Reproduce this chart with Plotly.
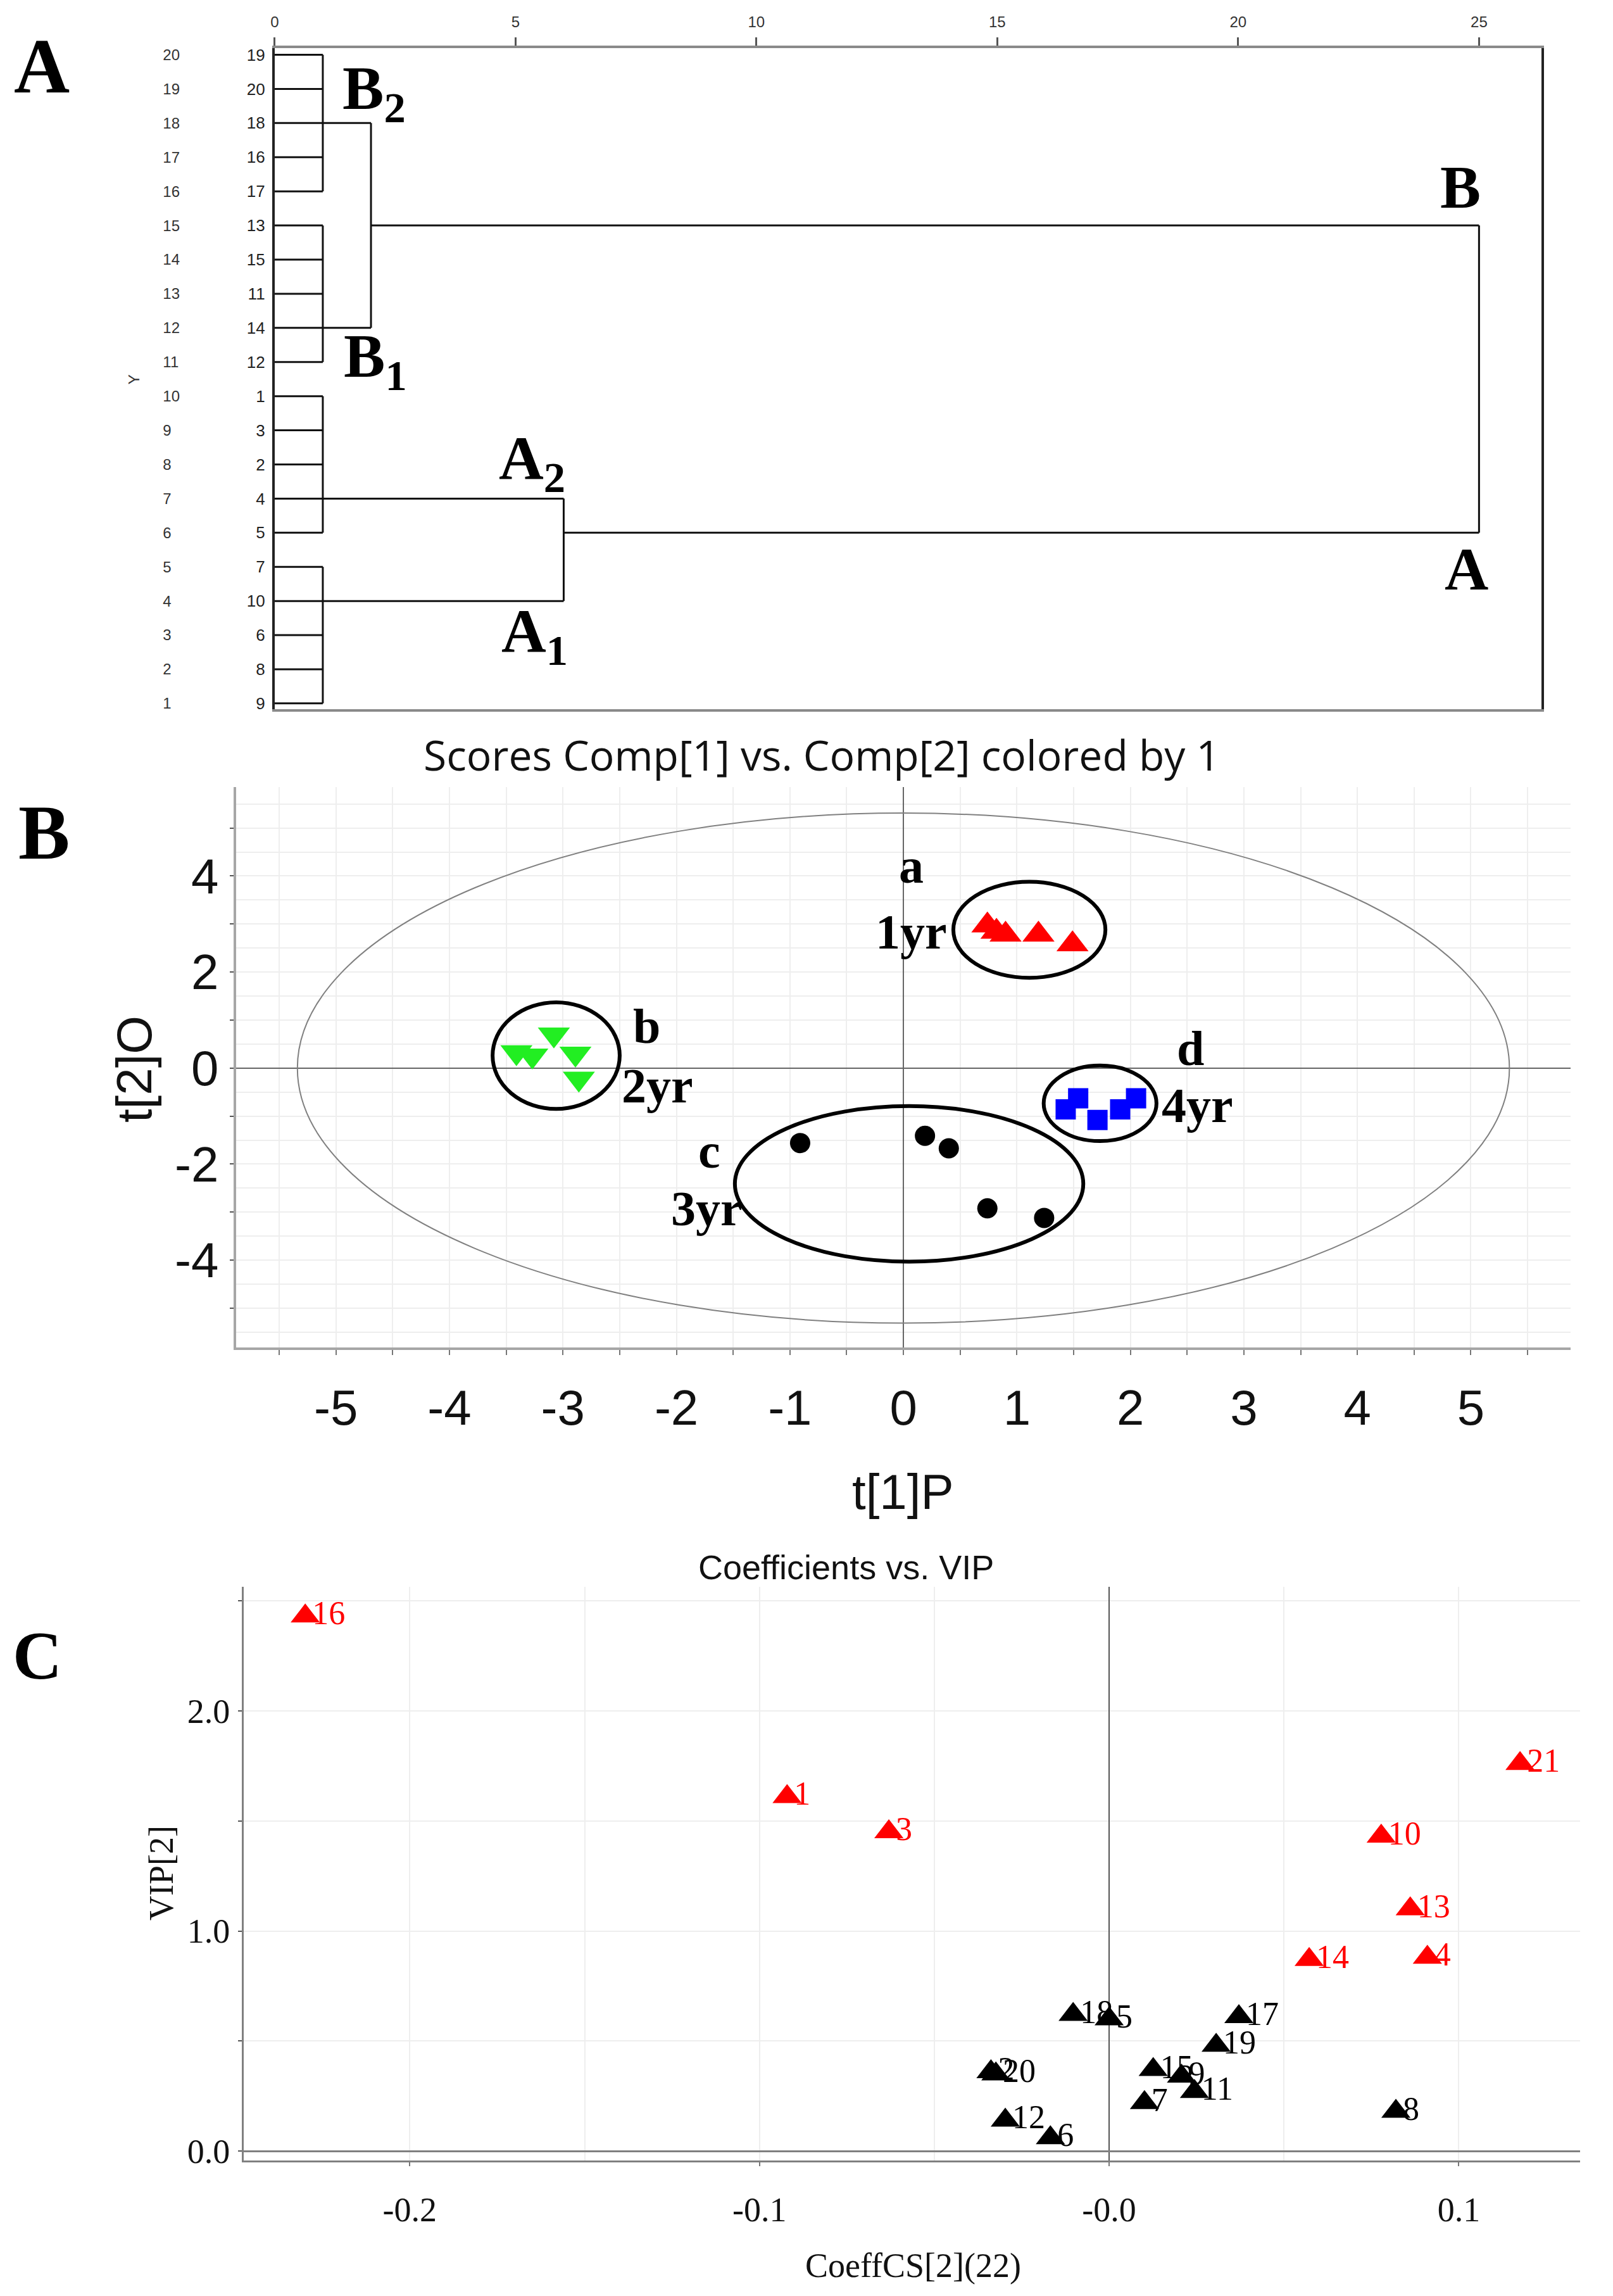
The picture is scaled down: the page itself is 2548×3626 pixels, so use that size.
import plotly.graph_objects as go

W, H = 2548, 3626

# ---------------- Panel A : hierarchical clustering dendrogram ----------------
leaf_order = [19, 20, 18, 16, 17, 13, 15, 11, 14, 12, 1, 3, 2, 4, 5, 7, 10, 6, 8, 9]  # top -> bottom
leaf_y = list(range(20, 0, -1))
group_names = ["B2", "B1", "A2", "A1"]
group_leaves = [[19, 20, 18, 16, 17], [13, 15, 11, 14, 12], [1, 3, 2, 4, 5], [7, 10, 6, 8, 9]]
group_heights = [1.0, 1.0, 1.0, 1.0]
group_link_leaf = [18, 14, 4, 10]
cluster_names = ["B", "A"]
cluster_children = [[0, 1], [2, 3]]
cluster_heights = [2.0, 6.0]
cluster_link_leaf = [13, 5]
root_height = 25.0
dendro_ticks = [0, 5, 10, 15, 20, 25]

# ---------------- Panel B : PCA scores ----------------
yr1_t1 = [0.74, 0.82, 0.90, 1.19, 1.49]
yr1_t2 = [2.97, 2.84, 2.78, 2.78, 2.58]
yr2_t1 = [-3.41, -3.27, -3.08, -2.89, -2.86]
yr2_t2 = [0.33, 0.26, 0.70, 0.30, -0.22]
yr3_t1 = [-0.91, 0.19, 0.40, 0.74, 1.24]
yr3_t2 = [-1.56, -1.41, -1.67, -2.92, -3.12]
yr4_t1 = [1.43, 1.54, 1.71, 1.91, 2.05]
yr4_t2 = [-0.86, -0.63, -1.08, -0.86, -0.63]
t2_ellipse_radii = [5.34, 5.31]
score_ticks = [-5, -4, -3, -2, -1, 0, 1, 2, 3, 4, 5]
group_labels = ["a", "b", "c", "d"]
group_years = ["1yr", "2yr", "3yr", "4yr"]
group_ell_cx = [1.11, -3.06, 0.05, 1.733]
group_ell_cy = [2.88, 0.26, -2.41, -0.734]
group_ell_rx = [0.67, 0.56, 1.535, 0.497]
group_ell_ry = [1.00, 1.11, 1.62, 0.786]

# ---------------- Panel C : coefficients vs VIP ----------------
var_ids = [16, 1, 3, 21, 10, 13, 14, 4, 18, 5, 17, 19, 15, 9, 11, 7, 2, 20, 12, 6, 8]
var_coeff = [-0.2299, -0.0921, -0.0630, 0.1175, 0.0778, 0.0861, 0.0572, 0.0910,
             -0.0103, 0.0000, 0.0371, 0.0306, 0.0126, 0.0207, 0.0244, 0.0101,
             -0.0338, -0.0324, -0.0297, -0.0168, 0.0820]
var_vip = [2.43, 1.61, 1.45, 1.76, 1.43, 1.10, 0.87, 0.88,
           0.62, 0.60, 0.61, 0.48, 0.37, 0.34, 0.27, 0.22,
           0.36, 0.35, 0.14, 0.06, 0.18]
var_important = [1, 1, 1, 1, 1, 1, 1, 1, 0, 0, 0, 0, 0, 0, 0, 0, 0, 0, 0, 0, 0]
coeff_ticks = [-0.2, -0.1, 0, 0.1]
coeff_ticktext = ["-0.2", "-0.1", "-0.0", "0.1"]
vip_ticks = [0, 1, 2]
vip_ticktext = ["0.0", "1.0", "2.0"]


def px(p):
    return p / W


def py(p):
    return 1 - p / H


SERIF = "Liberation Serif, Times New Roman, serif"
SANS = "Liberation Sans, Arial, sans-serif"
NARROW = "Liberation Sans Narrow, Arial Narrow, Liberation Sans, sans-serif"
OPEN = "Open Sans, Noto Sans, sans-serif"

fig = go.Figure()

# ---- dendrogram segments
ypos = {lf: y for lf, y in zip(leaf_order, leaf_y)}
dx, dy = [], []


def seg(x0, y0, x1, y1):
    dx.extend([x0, x1, None])
    dy.extend([y0, y1, None])


for gi, leaves in enumerate(group_leaves):
    h = group_heights[gi]
    for lf in leaves:
        seg(0, ypos[lf], h, ypos[lf])
    yv = [ypos[lf] for lf in leaves]
    seg(h, min(yv), h, max(yv))
for ci, (ga, gb) in enumerate(cluster_children):
    h = cluster_heights[ci]
    ya, yb = ypos[group_link_leaf[ga]], ypos[group_link_leaf[gb]]
    seg(group_heights[ga], ya, h, ya)
    seg(group_heights[gb], yb, h, yb)
    seg(h, ya, h, yb)
    yl = ypos[cluster_link_leaf[ci]]
    seg(h, yl, root_height, yl)
yr_a, yr_b = ypos[cluster_link_leaf[0]], ypos[cluster_link_leaf[1]]
seg(root_height, yr_a, root_height, yr_b)

fig.add_trace(go.Scatter(x=dx, y=dy, mode="lines", line=dict(color="#111111", width=3),
                         xaxis="x", yaxis="y", hoverinfo="skip", showlegend=False))
# leaf nodes (distance 0) on the secondary Y axis carrying the 1..20 row numbers
fig.add_trace(go.Scatter(x=[0] * len(leaf_y), y=leaf_y, mode="markers",
                         marker=dict(size=1, opacity=0), xaxis="x", yaxis="y4",
                         hoverinfo="skip", showlegend=False))

# ---- scores
fig.add_trace(go.Scatter(x=yr1_t1, y=yr1_t2, mode="markers", xaxis="x2", yaxis="y2",
                         marker=dict(symbol="triangle-up", size=44, color="#ff0000"), showlegend=False))
fig.add_trace(go.Scatter(x=yr2_t1, y=yr2_t2, mode="markers", xaxis="x2", yaxis="y2",
                         marker=dict(symbol="triangle-down", size=44, color="#22ee22"), showlegend=False))
fig.add_trace(go.Scatter(x=yr3_t1, y=yr3_t2, mode="markers", xaxis="x2", yaxis="y2",
                         marker=dict(symbol="circle", size=32, color="#000000"), showlegend=False))
fig.add_trace(go.Scatter(x=yr4_t1, y=yr4_t2, mode="markers", xaxis="x2", yaxis="y2",
                         marker=dict(symbol="square", size=32, color="#0000ff"), showlegend=False))

# ---- coefficients vs VIP
for flag, col in [(0, "#000000"), (1, "#ff0000")]:
    idx = [i for i, f in enumerate(var_important) if f == flag]
    xs = [var_coeff[i] for i in idx]
    ys = [var_vip[i] for i in idx]
    fig.add_trace(go.Scatter(x=xs, y=ys, mode="markers",
                             marker=dict(symbol="triangle-up", size=40, color=col),
                             xaxis="x3", yaxis="y3", showlegend=False))
    fig.add_trace(go.Scatter(x=xs, y=ys, text=[str(var_ids[i]) for i in idx],
                             mode="markers+text", textposition="middle right",
                             textfont=dict(family=SERIF, size=52, color=col),
                             marker=dict(size=16, opacity=0),
                             xaxis="x3", yaxis="y3", hoverinfo="skip", showlegend=False))

shapes = []
shapes.append(dict(type="circle", xref="x2", yref="y2", layer="between",
                   x0=-t2_ellipse_radii[0], x1=t2_ellipse_radii[0],
                   y0=-t2_ellipse_radii[1], y1=t2_ellipse_radii[1],
                   line=dict(color="#808080", width=2)))
for cx, cy, rx, ry in zip(group_ell_cx, group_ell_cy, group_ell_rx, group_ell_ry):
    shapes.append(dict(type="circle", xref="x2", yref="y2", layer="above",
                       x0=cx - rx, x1=cx + rx, y0=cy - ry, y1=cy + ry,
                       line=dict(color="#000000", width=6)))

ann = []


def add_text(text, x, y, size, family=SERIF, xref="paper", yref="paper", angle=0, color="#000000",
             xanchor="center"):
    ann.append(dict(text=text, x=x, y=y, xref=xref, yref=yref, showarrow=False, textangle=angle,
                    xanchor=xanchor, yanchor="middle", font=dict(family=family, size=size, color=color)))


# panel letters
add_text("<b>A</b>", px(59), py(101), 122)
add_text("<b>B</b>", px(63), py(1318), 122)
add_text("<b>C</b>", px(52), py(2625), 108)

# dendrogram cluster labels
add_text("<b>B<sub>2</sub></b>", 2.07, 18.89, 98, xref="x", yref="y")
add_text("<b>B<sub>1</sub></b>", 2.09, 11.05, 98, xref="x", yref="y")
add_text("<b>A<sub>2</sub></b>", 5.35, 8.06, 98, xref="x", yref="y")
add_text("<b>A<sub>1</sub></b>", 5.40, 2.99, 98, xref="x", yref="y")
add_text("<b>B</b>", 24.61, 16.13, 96, xref="x", yref="y")
add_text("<b>A</b>", 24.74, 4.94, 96, xref="x", yref="y")
add_text("Y", px(205), py(598), 24, family=SANS, angle=-90, color="#333333")

# scores titles
add_text("Scores Comp[1] vs. Comp[2] colored by 1", px(1295), py(1194), 66, family=OPEN, color="#111111")
add_text("t[1]P", px(1423), py(2365), 78, family=SANS, color="#111111")
add_text("t[2]O", px(205), py(1694), 78, family=SANS, angle=-90, color="#111111")
grp_lab_xy = [(0.07, 4.21), (-2.26, 0.88), (-1.71, -1.72), (2.53, 0.41)]
grp_year_xy = [(0.07, 2.84), (-2.17, -0.37), (-1.73, -2.92), (2.59, -0.77)]
for lab, (lx, ly) in zip(group_labels, grp_lab_xy):
    add_text("<b>%s</b>" % lab, lx, ly, 78, xref="x2", yref="y2")
for lab, (lx, ly) in zip(group_years, grp_year_xy):
    add_text("<b>%s</b>" % lab, lx, ly, 78, xref="x2", yref="y2")

# coefficient plot titles
add_text("Coefficients vs. VIP", px(1333), py(2485), 54, family=NARROW, color="#111111")
add_text("CoeffCS[2](22)", px(1439), py(3594), 54, family=SERIF, color="#111111")
add_text("VIP[2]", px(248), py(2970), 54, family=SERIF, angle=-90, color="#111111")

light = "#eeeeee"

fig.update_layout(
    width=W, height=H, autosize=False,
    margin=dict(l=0, r=0, t=0, b=0, pad=0),
    paper_bgcolor="white", plot_bgcolor="white",
    shapes=shapes, annotations=ann, showlegend=False,
    # ---- panel A
    xaxis=dict(domain=[px(428), px(2435)], range=[0, 26.3], anchor="y", side="top",
               tickvals=dendro_ticks, ticks="outside", ticklen=13, tickwidth=3, tickcolor="#555555",
               tickfont=dict(family=SANS, size=24, color="#333333"), ticklabelstandoff=6,
               showgrid=False, zeroline=False, showline=True, mirror=True,
               linecolor="#8a8a8a", linewidth=4),
    yaxis=dict(domain=[py(1122), py(72)], range=[0.834, 20.203], anchor="x",
               tickvals=leaf_y, ticktext=[str(v) for v in leaf_order], ticks="",
               tickfont=dict(family=SANS, size=26, color="#222222"), ticklabelstandoff=6,
               showgrid=False, zeroline=False, showline=True, mirror=True,
               linecolor="#222222", linewidth=4),
    yaxis4=dict(overlaying="y", anchor="free", position=px(250), side="right",
                range=[0.834, 20.203], tickvals=leaf_y, ticktext=[str(v) for v in leaf_y],
                ticks="", showline=False, showgrid=False, zeroline=False,
                tickfont=dict(family=SANS, size=24, color="#333333")),
    # ---- panel B
    xaxis2=dict(domain=[px(367), px(2481)], range=[-5.88, 5.88], anchor="y2",
                tickvals=score_ticks, ticktext=[str(v) for v in score_ticks],
                ticks="outside", ticklen=8, tickcolor="#777777", tickwidth=2,
                tickfont=dict(family=SANS, size=78, color="#111111"), ticklabelstandoff=16,
                showgrid=True, gridcolor=light, gridwidth=2,
                minor=dict(dtick=0.5, showgrid=True, gridcolor=light, gridwidth=2,
                           ticks="outside", ticklen=8, tickcolor="#777777"),
                zeroline=True, zerolinecolor="#666666", zerolinewidth=2,
                showline=True, linecolor="#a6a6a6", linewidth=4),
    yaxis2=dict(domain=[py(2136), py(1246)], range=[-5.82, 5.85], anchor="x2",
                tickvals=score_ticks,
                ticktext=[str(v) if v % 2 == 0 and v != 0 or v == 0 else " " for v in score_ticks],
                ticks="outside", ticklen=6, tickcolor="#555555", tickwidth=2,
                tickfont=dict(family=SANS, size=78, color="#111111"), ticklabelstandoff=2,
                showgrid=True, gridcolor=light, gridwidth=2,
                minor=dict(dtick=0.5, showgrid=True, gridcolor=light, gridwidth=2),
                zeroline=True, zerolinecolor="#666666", zerolinewidth=2,
                showline=True, linecolor="#a6a6a6", linewidth=4),
    # ---- panel C
    xaxis3=dict(domain=[px(379), px(2496)], range=[-0.2475, 0.1347], anchor="y3",
                tickvals=coeff_ticks, ticktext=coeff_ticktext,
                ticks="outside", ticklen=6, tickcolor="#777777", tickwidth=2,
                tickfont=dict(family=SERIF, size=54, color="#111111"), ticklabelstandoff=22,
                showgrid=True, gridcolor=light, gridwidth=2,
                minor=dict(dtick=0.05, showgrid=True, gridcolor=light, gridwidth=2),
                zeroline=True, zerolinecolor="#555555", zerolinewidth=2,
                showline=True, linecolor="#808080", linewidth=3),
    yaxis3=dict(domain=[py(3427), py(2516)], range=[-0.043, 2.563], anchor="x3",
                tickvals=vip_ticks, ticktext=vip_ticktext,
                ticks="outside", ticklen=6, tickcolor="#555555", tickwidth=2,
                tickfont=dict(family=SERIF, size=54, color="#111111"), ticklabelstandoff=2,
                showgrid=True, gridcolor=light, gridwidth=2,
                minor=dict(dtick=0.5, showgrid=True, gridcolor=light, gridwidth=2,
                           ticks="outside", ticklen=6, tickcolor="#555555"),
                zeroline=True, zerolinecolor="#808080", zerolinewidth=3,
                showline=True, linecolor="#808080", linewidth=3),
)

fig.write_html("out.html", config={"displayModeBar": False},
               post_script="document.body.style.margin='0';document.body.style.overflow='hidden';")
